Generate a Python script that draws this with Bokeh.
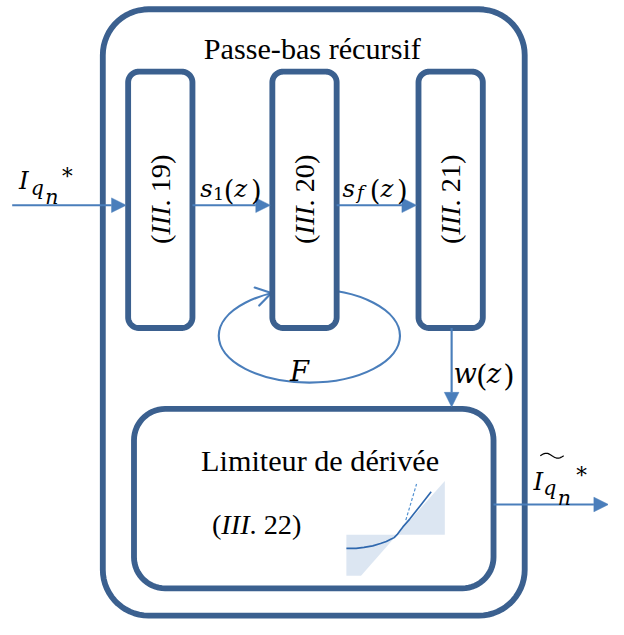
import numpy as np
from bokeh.plotting import figure
from bokeh.models import Range1d
from bokeh.core.properties import value
from bokeh.embed import file_html
from bokeh.resources import INLINE

# ---------------- diagram description (image pixel coordinates, y downward) -------------
IMG_W, IMG_H = 624, 635
BOX_COLOR = "#3B608F"
ARROW_COLOR = "#4A7EBB"
SHADE_COLOR = "#DCE6F2"
CURVE_COLOR = "#2F68AE"
SERIF = "Liberation Serif"
MATH = "DejaVu Serif"

# outer block "Passe-bas récursif"
outer_box = [105, 9, 538, 631]          # x0, y0, x1, y1
outer_radius = 47
outer_title = "Passe-bas récursif"

# three filter blocks
block_x0 = [131, 279, 429]
block_x1 = [197, 345, 495]
block_y0 = [73, 73, 73]
block_y1 = [336, 336, 336]
block_radius = 11
block_labels = ["19", "20", "21"]

# derivative limiter block
limiter_box = [137, 419, 506, 603]
limiter_radius = 32
limiter_title = "Limiteur de dérivée"
limiter_label = "22"

# signal arrows: (x_start, y_start, x_tip, y_tip)
arrow_x0 = [12, 197, 345, 463, 506]
arrow_y0 = [210, 210, 210, 336, 517]
arrow_x1 = [129, 277, 427, 463, 624]
arrow_y1 = [210, 210, 210, 417, 517]

# feedback loop F (ellipse behind block III.20)
loop_cx, loop_cy, loop_w, loop_h = 317, 344, 186, 96
loop_tip = (278, 300)
loop_dir_deg = -14     # direction the open arrow points (screen, y down)

# limiter characteristic inset
band_ll_x = [355, 407, 370, 355]
band_ll_y = [548, 548, 590, 590]
band_ur_x = [407, 456, 456]
band_ur_y = [548, 548, 493]
curve_x = [355, 365, 373, 382, 390, 396, 400, 404, 407, 410, 413, 420, 431, 442]
curve_y = [562, 562, 561, 559.5, 557, 555, 553, 551, 548, 544, 540, 532, 518, 504]
dash_x = [416, 427]
dash_y = [533, 496]

# math labels: (text, italic, size, x_left, baseline)
lab_s1 = [("s", True, 25, 205, 193), ("1", False, 18, 218, 198), ("(", False, 28, 229, 195),
          ("z", True, 25, 240, 193), (")", False, 28, 257, 195)]
lab_sf = [("s", True, 25, 351, 193), ("f", True, 19, 366, 197), ("(", False, 28, 379, 195),
          ("z", True, 25, 390, 193), (")", False, 28, 407, 195)]
lab_w = [("w", True, 28, 465, 383), ("(", False, 30, 488, 385),
         ("z", True, 28, 499, 383), (")", False, 30, 516, 385)]
lab_F = [("F", True, 28, 297, 381)]
lab_in = [("I", True, 25, 19, 185), ("q", True, 21, 31, 192), ("n", True, 21, 46, 202),
          ("*", False, 22, 63, 181)]
lab_out = [("I", True, 25, 547, 493), ("q", True, 21, 557, 500), ("n", True, 21, 572, 510),
           ("*", False, 22, 591, 487)]
tilde_span = (554, 578, 467)

# ---------------- figure -----------------------------------------------------------------
PW, PH = 608, 619
S = PW / IMG_W   # screen px per image px

p = figure(width=PW, height=PH, x_range=Range1d(0, IMG_W), y_range=Range1d(IMG_H, 0),
           toolbar_location=None, output_backend="svg", min_border=0,
           x_axis_type=None, y_axis_type=None)
p.grid.visible = False
p.outline_line_color = None
p.background_fill_color = "white"
p.border_fill_color = "white"


def rrect(x0, y0, x1, y1, r, n=16):
    xs, ys = [], []
    specs = [((x0 + r, y0 + r), np.pi, 1.5 * np.pi),
             ((x1 - r, y0 + r), 1.5 * np.pi, 2 * np.pi),
             ((x1 - r, y1 - r), 0, 0.5 * np.pi),
             ((x0 + r, y1 - r), 0.5 * np.pi, np.pi)]
    for (cx, cy), a0, a1 in specs:
        t = np.linspace(a0, a1, n)
        xs.extend(cx + r * np.cos(t))
        ys.extend(cy + r * np.sin(t))
    return xs, ys


# outer block
ox, oy = rrect(*outer_box, outer_radius)
p.patch(ox, oy, fill_color="white", line_color=BOX_COLOR, line_width=6 * S, line_join="round")

# feedback ellipse
p.ellipse(x=[loop_cx], y=[loop_cy], width=[loop_w], height=[loop_h],
          fill_color=None, line_color=ARROW_COLOR, line_width=2.2 * S)
ang = np.deg2rad(loop_dir_deg)
d = np.array([np.cos(ang), np.sin(ang)])
tip = np.array(loop_tip, dtype=float)
arm = 18
rot = np.deg2rad(32)
arms_x, arms_y = [], []
for s in (1, -1):
    c, sn = np.cos(s * rot), np.sin(s * rot)
    back = -d
    v = np.array([back[0] * c - back[1] * sn, back[0] * sn + back[1] * c])
    arms_x.append([tip[0], tip[0] + arm * v[0]])
    arms_y.append([tip[1], tip[1] + arm * v[1]])
p.multi_line(arms_x, arms_y, line_color=ARROW_COLOR, line_width=2.2 * S, line_cap="round")

# filter blocks
bxs, bys = [], []
for x0, y0, x1, y1 in zip(block_x0, block_y0, block_x1, block_y1):
    xs, ys = rrect(x0, y0, x1, y1, block_radius)
    bxs.append(xs)
    bys.append(ys)
p.patches(bxs, bys, fill_color="white", line_color=BOX_COLOR, line_width=6 * S, line_join="round")

# limiter block
lx, ly = rrect(*limiter_box, limiter_radius)
p.patch(lx, ly, fill_color="white", line_color=BOX_COLOR, line_width=6 * S, line_join="round")

# arrows
HEAD_L, HEAD_W = 15, 7.5
line_xs, line_ys, head_xs, head_ys = [], [], [], []
for x0, y0, x1, y1 in zip(arrow_x0, arrow_y0, arrow_x1, arrow_y1):
    v = np.array([x1 - x0, y1 - y0], dtype=float)
    u = v / np.hypot(*v)
    base = np.array([x1, y1]) - HEAD_L * u
    perp = np.array([-u[1], u[0]])
    line_xs.append([x0, base[0]])
    line_ys.append([y0, base[1]])
    head_xs.append([x1, base[0] + HEAD_W * perp[0], base[0] - HEAD_W * perp[0]])
    head_ys.append([y1, base[1] + HEAD_W * perp[1], base[1] - HEAD_W * perp[1]])
p.multi_line(line_xs, line_ys, line_color=ARROW_COLOR, line_width=2.2 * S)
p.patches(head_xs, head_ys, fill_color=ARROW_COLOR, line_color=ARROW_COLOR, line_width=0.5)

# limiter inset
p.patches([band_ll_x, band_ur_x], [band_ll_y, band_ur_y], fill_color=SHADE_COLOR, line_color=None)
p.line(curve_x, curve_y, line_color=CURVE_COLOR, line_width=1.7 * S)
p.line(dash_x, dash_y, line_color="#4F8FD0", line_width=1.2 * S, line_dash="3 2")

# ---------------- text ------------------------------------------------------------------
R_W = {'(': 0.333, ')': 0.333, '.': 0.25, ' ': 0.25, '*': 0.5}
R_W.update({str(k): 0.5 for k in range(10)})
I_W = {'I': 0.333}


def seg_width(t, italic):
    table = I_W if italic else R_W
    return sum(table.get(ch, 0.5) for ch in t)


def put(x, y, t, size, italic=False, angle=0.0, align="left", baseline="alphabetic", font=SERIF):
    p.text(x=[x], y=[y], text=[t], angle=angle, text_font=value(font),
           text_font_size=f"{size * S:.1f}px", text_font_style="italic" if italic else "normal",
           text_align=align, text_baseline=baseline, text_color="black")


def eq_label(num, cx, cy, size, vertical):
    segs = [("(", False), ("III", True), (". " + num + ")", False)]
    widths = [seg_width(t, it) * size for t, it in segs]
    total = sum(widths)
    if vertical:
        pos = cy + total / 2
        for (t, it), w in zip(segs, widths):
            put(cx, pos, t, size, it, angle=np.pi / 2, baseline="middle")
            pos -= w
    else:
        pos = cx
        for (t, it), w in zip(segs, widths):
            put(pos, cy, t, size, it, baseline="middle")
            pos += w


# titles
put(320, 50, outer_title, 31, align="center")
put(328, 472, limiter_title, 31, align="center")

# equation references
for x0, x1, y0, y1, lab in zip(block_x0, block_x1, block_y0, block_y1, block_labels):
    eq_label(lab, (x0 + x1) / 2, 204, 29, True)
eq_label(limiter_label, 217, 538, 29, False)

# math labels
for lab in (lab_s1, lab_sf, lab_w, lab_F, lab_in, lab_out):
    for t, it, sz, x, y in lab:
        put(x, y, t, sz, it, font=MATH)
tt = np.linspace(0, 2 * np.pi, 30)
p.line(tilde_span[0] + (tilde_span[1] - tilde_span[0]) * tt / (2 * np.pi),
       tilde_span[2] - 2.5 * np.sin(tt), line_color="black", line_width=1.3)

open("out.html", "w").write(file_html(p, INLINE))
